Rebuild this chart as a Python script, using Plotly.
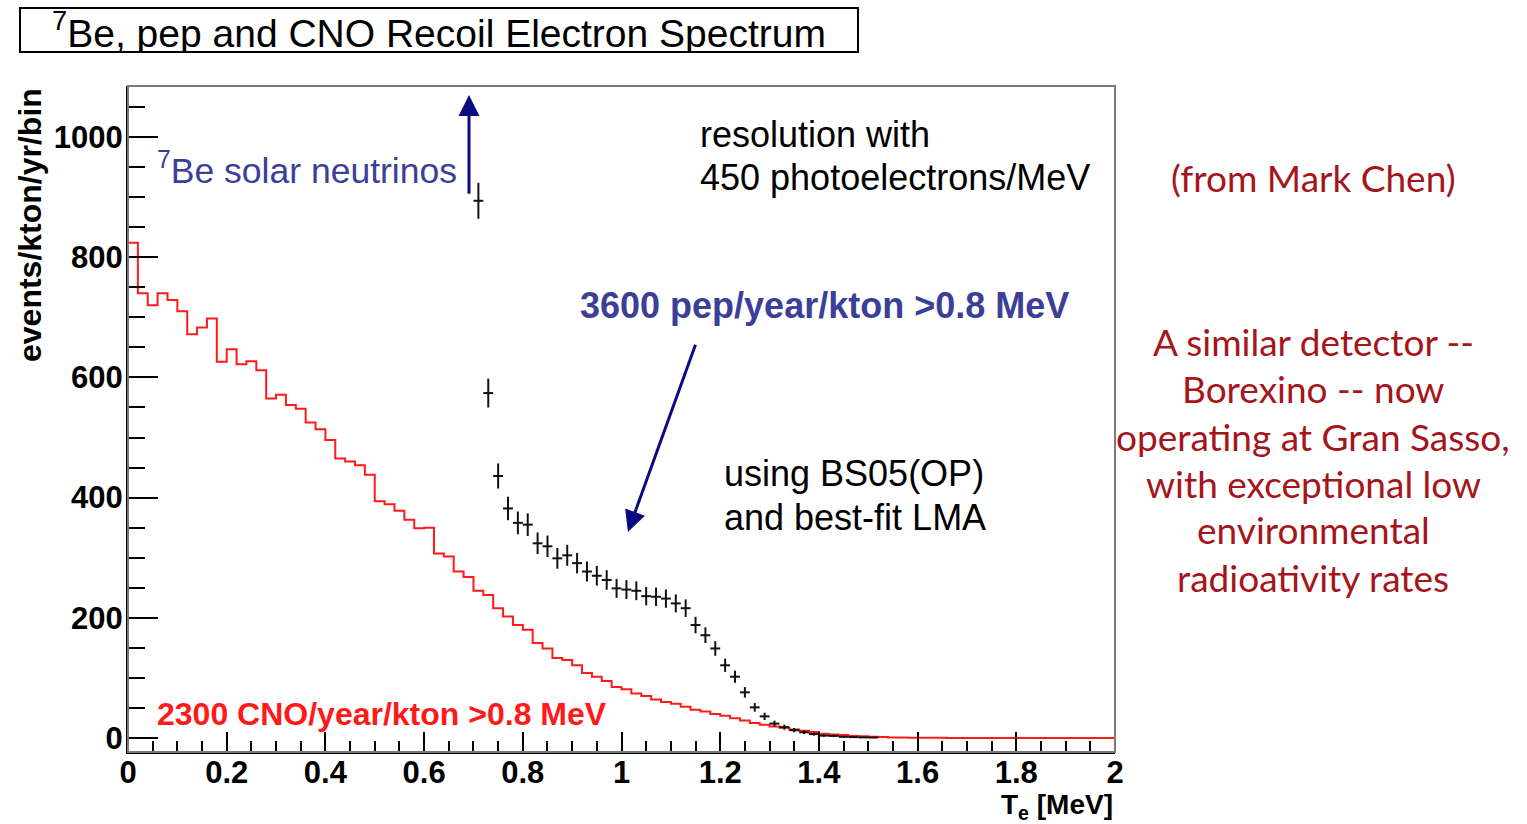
import numpy as np
import plotly.graph_objects as go

# ---- binning: 100 bins of 0.02 MeV from 0 to 2 MeV ----
bin_edges = np.round(np.linspace(0.0, 2.0, 101), 4)
bin_centers = np.round(0.5 * (bin_edges[:-1] + bin_edges[1:]), 4)

# CNO recoil-electron spectrum (events/kton/yr/bin), one value per bin
cno_counts = [
    824, 740, 720, 740, 729, 710, 672, 683, 698, 626,
    647, 622, 627, 612, 565, 571, 554, 548, 525, 514,
    496, 465, 460, 454, 438, 394, 389, 378, 363, 349,
    350, 307, 302, 277, 268, 245, 238, 216, 202, 188,
    180, 158, 149, 133, 130, 121, 108, 102, 95, 85,
    81, 74, 70, 64, 60, 57, 52, 47, 44, 40,
    37, 33, 29, 25, 22, 19, 17, 14, 12, 10,
    7, 6, 5, 3.5, 2.8, 2, 1.5, 1, 0.7, 0.5,
    0.4, 0.3, 0.25, 0.2, 0.15, 0.12, 0.1, 0.08, 0.06, 0.05,
    0.04, 0.03, 0.02, 0.02, 0.01, 0.01, 0.01, 0.0, 0.0, 0.0,
]

# 7Be + pep spectrum, bins 35..75 (0.70 - 1.52 MeV)
pep_first_bin = 35
pep_counts = [
    894, 574, 436, 382, 358, 355, 324, 319, 299, 304,
    291, 277, 270, 263, 249, 247, 245, 236, 235, 232,
    224, 216, 188, 171, 149, 121, 102, 76, 51, 36,
    24, 18, 13, 9.5, 6.5, 4, 3.5, 2, 1.5, 1, 0.8,
]
pep_energy = bin_centers[pep_first_bin:pep_first_bin + len(pep_counts)]
pep_errors = np.sqrt(pep_counts)          # Poisson errors
half_bin = 0.5 * (bin_edges[1] - bin_edges[0])

x_ticks = [0, 0.2, 0.4, 0.6, 0.8, 1, 1.2, 1.4, 1.6, 1.8, 2]
x_tick_labels = ["0", "0.2", "0.4", "0.6", "0.8", "1", "1.2", "1.4", "1.6", "1.8", "2"]
y_ticks = [0, 200, 400, 600, 800, 1000]
y_tick_labels = ["0", "200", "400", "600", "800", "1000"]

# ---- page geometry ----
W, H = 1527, 824
L, R, T, B = 128, 1115, 86, 752      # plot frame in pixels
Y_RANGE = [-23.3, 1085]

def px(xp):
    return (xp - L) / (R - L)

def py(yp):
    return (B - yp) / (B - T)

SANS = "Liberation Sans, Arial, Helvetica, sans-serif"
NAVY = "#0c0c82"
BLUE_TXT = "#3b3f98"
DARK_RED = "#a5151c"

fig = go.Figure()

# CNO histogram as a step line over bin edges
fig.add_trace(go.Scatter(
    x=list(bin_edges),
    y=list(cno_counts) + [cno_counts[-1]],
    mode="lines",
    line=dict(color="#ff1a1a", width=2, shape="hv"),
    hoverinfo="skip",
    showlegend=False,
))

# 7Be + pep points with bin-width and statistical error bars
fig.add_trace(go.Scatter(
    x=list(pep_energy),
    y=pep_counts,
    mode="markers",
    marker=dict(size=1, color="#111111"),
    error_x=dict(type="constant", value=half_bin, color="#111111", thickness=2, width=0),
    error_y=dict(type="data", array=list(pep_errors), color="#111111", thickness=2, width=0),
    showlegend=False,
))

# frame
fig.add_shape(type="rect", xref="paper", yref="paper", x0=0, y0=0, x1=1, y1=1,
              line=dict(color="#7a7a7a", width=2), layer="above")

axis_font = dict(family=SANS, size=31, color="black", weight="bold")

fig.update_xaxes(
    range=[0, 2], showgrid=False, zeroline=False,
    showline=True, linecolor="black", linewidth=2,
    ticks="inside", ticklen=20, tickwidth=2, tickcolor="black",
    tickvals=x_ticks, ticktext=x_tick_labels, tickfont=axis_font,
    ticklabelstandoff=-8,
    minor=dict(dtick=0.05, ticks="inside", ticklen=11, tickwidth=2, tickcolor="black"),
)
fig.update_yaxes(
    range=Y_RANGE, showgrid=False, zeroline=False,
    showline=True, linecolor="black", linewidth=2,
    ticks="inside", ticklen=30, tickwidth=2, tickcolor="black",
    tickvals=y_ticks, ticktext=y_tick_labels, tickfont=axis_font,
    ticklabelstandoff=-3,
    minor=dict(dtick=50, ticks="inside", ticklen=17, tickwidth=2, tickcolor="black"),
)

def text(xp, yp, s, size=36, color="black", bold=False, xanchor="left",
         family=SANS, **kw):
    fig.add_annotation(
        x=px(xp), y=py(yp), xref="paper", yref="paper", text=s,
        showarrow=False, xanchor=xanchor, yanchor="middle",
        font=dict(family=family, size=size, color=color,
                  weight="bold" if bold else "normal"),
        **kw,
    )

# title box
fig.add_annotation(
    x=px(439), y=py(30), xref="paper", yref="paper",
    text="<sup>7</sup>Be, pep and CNO Recoil Electron Spectrum",
    showarrow=False, xanchor="center", yanchor="middle",
    width=836, height=42, bordercolor="black", borderwidth=2, borderpad=0,
    bgcolor="white", font=dict(family=SANS, size=39, color="black"),
)

# axis titles
fig.add_annotation(
    x=px(30), y=1.0, xref="paper", yref="paper", text="events/kton/yr/bin",
    textangle=-90, showarrow=False, xanchor="center", yanchor="top",
    font=dict(family=SANS, size=32, color="black", weight="bold"),
)
text(1115, 806, "T<sub>e</sub> [MeV]", size=28, bold=True, xanchor="right")

# annotations inside the frame
text(155, 168, "<sup>7</sup>Be solar neutrinos", size=35.5, color=BLUE_TXT)
text(698, 135, "resolution with", size=36)
text(698, 177, "450 photoelectrons/MeV", size=36)
text(578, 305, "3600 pep/year/kton >0.8 MeV", size=36, color=BLUE_TXT, bold=True)
text(722, 473, "using BS05(OP)", size=36)
text(722, 517, "and best-fit LMA", size=36)
text(155, 714, "2300 CNO/year/kton >0.8 MeV", size=32, color="#ff1a1a", bold=True)

# arrows
fig.add_annotation(x=0.691, y=1070, ax=0.691, ay=903, xref="x", yref="y",
                   axref="x", ayref="y", text="", showarrow=True,
                   arrowhead=2, arrowsize=1.4, arrowwidth=3, arrowcolor=NAVY)
fig.add_annotation(x=1.013, y=343, ax=1.151, ay=657, xref="x", yref="y",
                   axref="x", ayref="y", text="", showarrow=True,
                   arrowhead=2, arrowsize=1.4, arrowwidth=3, arrowcolor=NAVY)

# side notes
SIDE = "Lato, Open Sans, sans-serif"
text(1313, 177, "(from Mark Chen)", size=37, color=DARK_RED, xanchor="center", family=SIDE)
side_lines = [
    "A similar detector --",
    "Borexino -- now",
    "operating at Gran Sasso,",
    "with exceptional low",
    "environmental",
    "radioativity rates",
]
side_y = [341, 388, 436, 483, 529, 577]
for s, yy in zip(side_lines, side_y):
    text(1313, yy, s, size=37, color=DARK_RED, xanchor="center", family=SIDE)

fig.update_layout(
    width=W, height=H,
    margin=dict(l=L, r=W - R, t=T, b=H - B),
    paper_bgcolor="white", plot_bgcolor="white",
    showlegend=False,
)

fig.write_html("out.html")
